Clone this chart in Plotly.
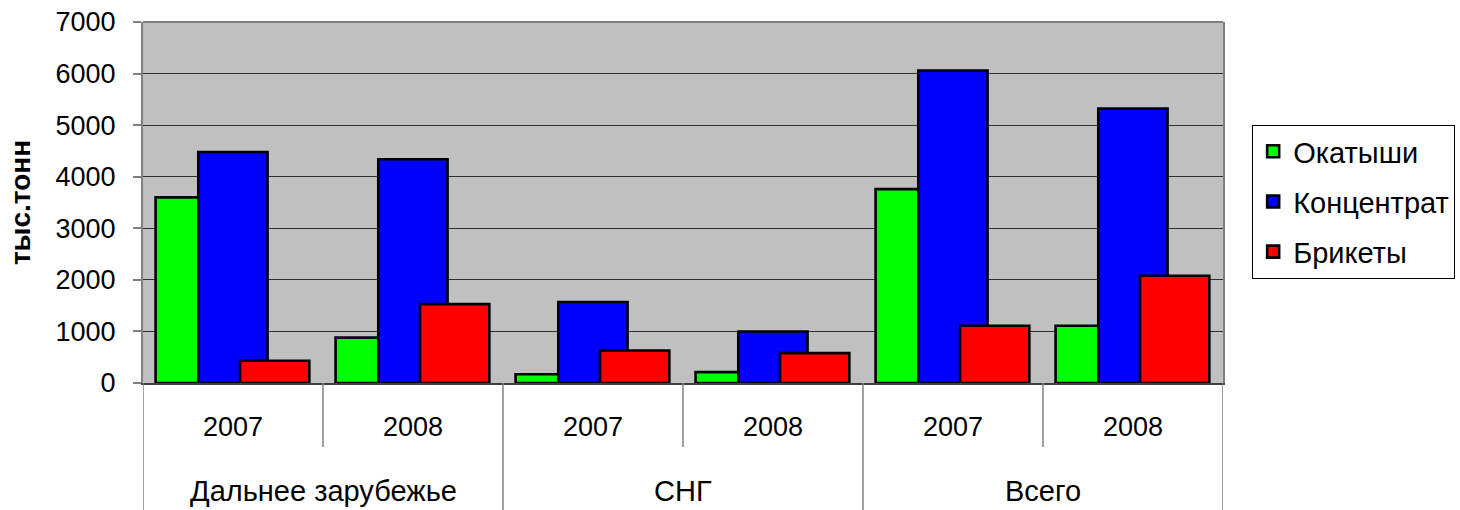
import plotly.graph_objects as go

groups = ["Дальнее зарубежье", "СНГ", "Всего"]
years = ["2007", "2008", "2007", "2008", "2007", "2008"]
series_names = ["Окатыши", "Концентрат", "Брикеты"]
okatyshi = [3600, 880, 170, 210, 3760, 1110]
koncentrat = [4480, 4340, 1570, 1000, 6060, 5320]
brikety = [430, 1530, 630, 580, 1110, 2080]
colors = ["#00FF00", "#0000FF", "#FF0000"]
y_ticks = [0, 1000, 2000, 3000, 4000, 5000, 6000, 7000]

FONT = "Liberation Sans, Arial, sans-serif"
xpos = list(range(len(years)))
values = [okatyshi, koncentrat, brikety]
offsets = [-0.43, -0.193, 0.039]

fig = go.Figure()
for i, (name, vals) in enumerate(zip(series_names, values)):
    fig.add_trace(go.Bar(
        x=xpos, y=vals, name=name, legendgroup=name,
        marker=dict(color=colors[i], line=dict(color="black", width=2.6)),
        width=0.385, offset=offsets[i],
        hoverinfo="y",
    ))

# divider lines under the plot (axis decoration)
n = len(years)
per_group = n // len(groups)
for b in range(n + 1):
    xb = b - 0.5
    is_group = (b % per_group == 0)
    fig.add_shape(type="line", xref="x", yref="paper",
                  x0=xb, x1=xb, y0=0, y1=(-0.36 if is_group else -0.177),
                  line=dict(color="#808080", width=1.5))

for gi, g in enumerate(groups):
    fig.add_annotation(x=gi * per_group + (per_group - 1) / 2, y=-0.298,
                       xref="x", yref="paper", text=g, showarrow=False,
                       yanchor="middle", font=dict(family=FONT, size=29, color="black"))

fig.update_layout(
    width=1460, height=510,
    margin=dict(l=143, r=237, t=22, b=127, autoexpand=False),
    paper_bgcolor="white", plot_bgcolor="#C0C0C0",
    barmode="overlay",
    font=dict(family=FONT, size=27, color="black"),
    showlegend=True,
    legend=dict(x=1.027, xanchor="left", y=0.715, yanchor="top",
                bordercolor="black", borderwidth=1, bgcolor="white",
                tracegroupgap=9.5, font=dict(family=FONT, size=29, color="black")),
    xaxis=dict(range=[-0.5, n - 0.5], tickvals=xpos, ticktext=years,
               showgrid=False, zeroline=False, ticks="",
               ticklabelstandoff=19,
               showline=True, linecolor="#404040", linewidth=2, mirror=False,
               tickfont=dict(family=FONT, size=27, color="black")),
    yaxis=dict(range=[0, 7000], tickvals=y_ticks, showgrid=True,
               gridcolor="#303030", gridwidth=1, zeroline=False,
               ticks="outside", ticklen=8, tickcolor="#808080", tickwidth=1.5,
               showline=True, linecolor="#808080", linewidth=2, mirror=True,
               ticklabelstandoff=12, ticklabeloverflow="allow",
               tickfont=dict(family=FONT, size=27, color="black"),
               title=dict(text="<b>тыс.тонн</b>", standoff=17,
                          font=dict(family=FONT, size=28, color="black"))),
)
fig.add_shape(type="line", xref="paper", yref="paper", x0=0, x1=1, y0=1, y1=1,
              line=dict(color="#808080", width=2))

fig.write_html("out.html", config={"displayModeBar": False},
               post_script="document.body.style.margin='0';document.body.style.overflow='hidden';")
